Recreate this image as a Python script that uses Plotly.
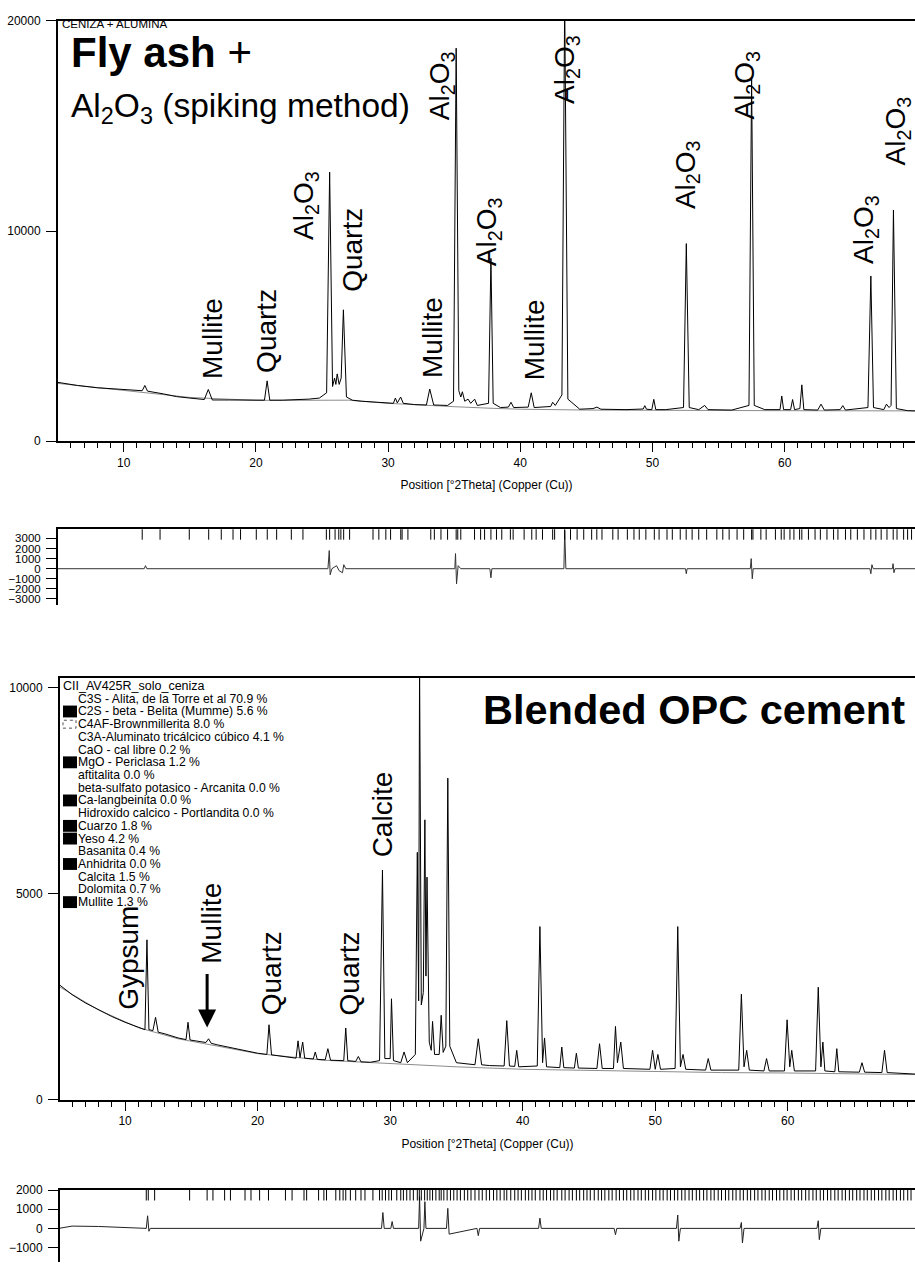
import plotly.graph_objects as go

W, H = 915, 1269

# ---------------- Fly ash + Al2O3 (spiking) : observed profile ----------------
fa_tth = [5.0, 6.5, 8.0, 10.0, 11.4, 11.6, 11.8, 13.0, 14.0, 15.0, 16.1, 16.4, 16.7, 18.0, 19.5,
          20.65, 20.85, 21.05, 22.0, 23.0, 24.0, 24.8, 25.35, 25.58, 25.8, 25.95, 26.05, 26.15, 26.3,
          26.45, 26.62, 26.85, 27.3, 28.0, 29.0, 30.4, 30.55, 30.7, 30.95, 31.15, 32.0, 32.9, 33.15,
          33.45, 34.5, 34.95, 35.15, 35.35, 35.5, 35.62, 35.8, 36.05, 36.25, 36.55, 36.75, 37.6,
          37.78, 37.95, 38.5, 39.1, 39.3, 39.5, 40.6, 40.83, 41.05, 41.7, 42.3, 42.45, 42.65, 43.15,
          43.36, 43.6, 44.5, 45.5, 45.8, 46.1, 47.0, 48.0, 49.3, 49.42, 49.55, 49.95, 50.1, 50.25,
          51.0, 52.35, 52.56, 52.78, 53.5, 53.95, 54.2, 56.0, 57.3, 57.5, 57.7, 58.5, 59.65, 59.78,
          59.92, 60.45, 60.6, 60.75, 61.15, 61.3, 61.45, 62.5, 62.75, 63.0, 64.2, 64.4, 64.6, 66.3,
          66.52, 66.72, 67.5, 67.7, 67.9, 68.05, 68.23, 68.45, 69.3, 69.86]
fa_obs = [2800, 2650, 2540, 2450, 2400, 2650, 2380, 2250, 2120, 2050, 1980, 2460, 1960, 1960, 1950,
          1950, 2870, 1950, 1950, 1960, 2000, 2050, 2300, 12800, 2600, 3000, 2700, 3200, 2700,
          3000, 6250, 2100, 1950, 1900, 1850, 1800, 2050, 1820, 2100, 1800, 1740, 1720, 2480,
          1720, 1700, 1900, 18700, 2400, 2100, 2350, 1900, 2000, 1800, 2000, 1700, 1800,
          8700, 1800, 1600, 1620, 1850, 1600, 1620, 2300, 1600, 1620, 1650, 1850, 1700, 2200,
          21000, 2000, 1520, 1550, 1620, 1520, 1500, 1500, 1530, 1690, 1520, 1500, 1990, 1500,
          1500, 1600, 9400, 1600, 1500, 1700, 1500, 1480, 1700, 17300, 1700, 1500, 1500, 2150,
          1500, 1500, 1980, 1500, 1550, 2680, 1500, 1480, 1760, 1480, 1500, 1690, 1480, 1600,
          7860, 1600, 1500, 1760, 1600, 1700, 11000, 1550, 1450, 1440]

# calculated background
fa_bg_tth = [5.0, 10.0, 15.0, 20.0, 25.0, 27.0, 30.0, 33.0, 35.0, 38.0, 40.0, 45.0, 50.0, 60.0, 69.86]
fa_bg = [2750, 2400, 2080, 1940, 1950, 1950, 1800, 1690, 1640, 1560, 1520, 1480, 1460, 1450, 1440]

# observed - calculated
fa_diff_tth = [5.0, 11.55, 11.65, 11.75, 25.45, 25.55, 25.62, 25.75, 26.1, 26.3, 26.55, 26.65, 26.8,
               35.05, 35.1, 35.18, 35.3, 35.5, 37.7, 37.78, 37.85, 43.3, 43.36, 43.45, 52.5, 52.56,
               52.62, 57.4, 57.47, 57.55, 57.62, 66.45, 66.52, 66.6, 66.7, 68.15, 68.2, 68.27, 68.35,
               69.86]
fa_diff = [0, 0, 300, 0, 0, 1800, -600, 0, 300, -200, -400, 400, 0,
           0, 1500, -1500, 300, 0, 0, -900, 0, 0, 3800, 0, 0, -500,
           0, 0, 1000, -1000, 0, 0, -500, 400, 0, 0, 500, -400, 0,
           0]

# reflection markers (corundum, mullite, quartz)
fa_refl = [11.4, 12.75, 14.96, 16.43, 17.38, 18.27, 18.84, 20.03, 20.86, 21.57, 22.68, 23.56,
           25.33, 25.58, 25.99, 26.27, 26.43, 26.64, 27.09, 28.86, 29.3, 29.83, 30.19, 30.96,
           31.06, 31.5, 33.23, 33.5, 34.0, 34.5, 35.15, 35.27, 35.5, 36.54, 37.0, 37.3, 37.78,
           38.2, 38.6, 39.25, 39.46, 40.29, 40.87, 41.2, 41.68, 42.45, 42.6, 43.36, 43.8, 44.3,
           44.8, 45.4, 45.79, 46.18, 47.0, 47.4, 48.1, 48.6, 49.0, 49.5, 50.14, 50.5, 51.1,
           51.5, 52.1, 52.55, 53.0, 53.5, 54.1, 54.87, 55.32, 55.8, 56.4, 56.9, 57.5, 57.6,
           58.2, 58.6, 59.3, 59.74, 59.96, 60.4, 60.7, 61.13, 61.3, 61.8, 62.3, 62.7, 63.2,
           63.7, 64.03, 64.6, 65.0, 65.5, 66.0, 66.52, 66.9, 67.3, 67.74, 68.21, 68.5, 69.0,
           69.3, 69.6]

fa_labels = [  # (2theta of label centre, text, lower end of the rotated label in px)
    (16.73, "Mullite", 378),
    (20.84, "Quartz", 372),
    (23.79, "Al<sub>2</sub>O<sub>3</sub>", 237),
    (27.35, "Quartz", 290),
    (33.37, "Mullite", 377),
    (34.0, "Al<sub>2</sub>O<sub>3</sub>", 116),
    (37.6, "Al<sub>2</sub>O<sub>3</sub>", 264),
    (41.04, "Mullite", 380),
    (43.5, "Al<sub>2</sub>O<sub>3</sub>", 100),
    (52.6, "Al<sub>2</sub>O<sub>3</sub>", 206),
    (57.1, "Al<sub>2</sub>O<sub>3</sub>", 116),
    (66.1, "Al<sub>2</sub>O<sub>3</sub>", 262),
    (68.55, "Al<sub>2</sub>O<sub>3</sub>", 162),
]

# ---------------- Blended OPC cement : observed profile ----------------
op_tth = [5.0, 6.0, 7.0, 8.0, 9.0, 10.0, 11.0, 11.5, 11.65, 11.8, 12.1, 12.3, 12.5, 13.0, 14.0, 14.6,
          14.75, 14.9, 15.5, 16.1, 16.3, 16.5, 17.0, 18.0, 19.0, 20.0, 20.7, 20.86, 21.05, 22.0,
          22.9, 23.05, 23.2, 23.4, 23.55, 24.2, 24.35, 24.5, 25.1, 25.3, 25.5, 26.5, 26.65, 26.8,
          27.4, 27.6, 27.8, 28.5, 29.2, 29.42, 29.6, 30.0, 30.1, 30.25, 30.8, 31.05, 31.3, 31.9,
          32.05, 32.15, 32.22, 32.35, 32.5, 32.62, 32.7, 32.78, 32.95, 33.1, 33.2, 33.35, 33.7,
          33.85, 34.0, 34.2, 34.35, 34.5, 35.0, 36.4, 36.65, 36.9, 37.5, 38.6, 38.8, 39.0, 39.4,
          39.55, 39.7, 41.1, 41.3, 41.5, 41.65, 41.8, 42.8, 42.95, 43.1, 43.9, 44.05, 44.2, 45.6,
          45.8, 46.0, 46.85, 47.0, 47.15, 47.4, 47.6, 49.6, 49.8, 50.0, 50.2, 50.4, 51.5, 51.7,
          51.9, 52.1, 52.3, 53.8, 54.0, 54.2, 56.3, 56.5, 56.7, 56.9, 57.1, 58.2, 58.4, 58.6,
          59.75, 59.95, 60.15, 60.3, 60.5, 62.1, 62.3, 62.5, 62.65, 62.8, 63.55, 63.7, 63.85,
          65.4, 65.6, 65.8, 67.1, 67.3, 67.5, 68.5, 69.86]
op_obs = [2800, 2550, 2350, 2180, 2020, 1880, 1760, 1700, 3880, 1700, 1680, 2000, 1640, 1600, 1500, 1460,
          1880, 1450, 1420, 1390, 1480, 1370, 1330, 1260, 1200, 1130, 1100, 1820, 1090, 1040,
          1010, 1430, 1020, 1400, 1010, 990, 1160, 980, 970, 1240, 960, 950, 1740, 950,
          930, 1050, 920, 910, 950, 5570, 1000, 1000, 2450, 950, 900, 1160, 900, 1100,
          6000, 2400, 10600, 2300, 2600, 6790, 3000, 5400, 1400, 1200, 1900, 1100, 1100,
          2050, 1150, 1300, 7800, 1300, 900, 850, 1480, 850, 830, 820, 1920, 820, 810,
          1200, 800, 820, 4200, 900, 1500, 800, 780, 1280, 780, 770, 1130, 770, 760,
          1360, 760, 760, 1780, 900, 1400, 760, 740, 1200, 740, 1100, 740, 760, 4200,
          800, 1100, 740, 720, 1000, 720, 720, 2560, 800, 1200, 720, 700, 1000, 700,
          700, 1940, 800, 1200, 700, 700, 2730, 800, 1400, 700, 680, 1240, 680,
          670, 900, 670, 660, 1200, 660, 640, 620]

op_bg_tth = [5.0, 8.0, 11.0, 14.0, 17.0, 20.0, 25.0, 30.0, 35.0, 40.0, 45.0, 50.0, 55.0, 60.0, 65.0, 69.86]
op_bg = [2750, 2180, 1750, 1480, 1300, 1120, 960, 880, 800, 740, 710, 680, 660, 650, 630, 610]

op_diff_tth = [5.0, 6.0, 8.0, 10.0, 11.6, 11.7, 11.8, 11.9, 20.0, 29.35, 29.45, 29.55, 30.05, 30.15,
               30.25, 32.15, 32.22, 32.3, 32.55, 32.62, 32.7, 34.25, 34.35, 34.45, 36.55, 36.65,
               36.75, 41.2, 41.3, 41.4, 46.9, 47.0, 47.1, 51.6, 51.7, 51.78, 51.9, 56.4, 56.5,
               56.58, 56.7, 62.2, 62.3, 62.38, 62.5, 69.86]
op_diff = [0, 120, 100, 60, 0, 660, -150, 0, 0, 0, 830, 0, 0, 360,
           0, 0, 1660, -670, 0, 1400, 0, 0, 1050, -300, 0, -380,
           0, 0, 535, 0, 0, -330, 0, 0, 700, -670, 0, 0, 310,
           -760, 0, 0, 400, -590, 0, 0]

# reflection markers of the refined cement phases
op_refl = [11.6, 11.75, 12.23, 14.87, 16.19, 16.63, 17.51, 17.95, 19.05, 19.5, 20.15, 20.82,
           22.1, 22.6, 23.5, 23.7, 24.6, 25.0, 25.2, 25.9, 26.2, 26.45, 26.65, 27.0, 27.4, 27.8,
           28.1, 28.7, 29.2, 29.4, 29.65, 29.9, 30.1, 30.5, 30.8, 31.0, 31.25, 31.5, 31.75,
           32.05, 32.2, 32.35, 32.6, 32.8, 33.0, 33.2, 33.45, 33.7, 33.85, 34.05, 34.3, 34.55,
           34.8, 35.05, 35.3, 35.6, 35.85, 36.1, 36.4, 36.7, 36.95, 37.25, 37.5, 37.8, 38.05,
           38.3, 38.6, 38.8, 39.1, 39.4, 39.65, 39.9, 40.2, 40.45, 40.7, 40.95, 41.3, 41.55,
           41.8, 42.1, 42.35, 42.6, 42.95, 43.2, 43.5, 43.75, 44.05, 44.3, 44.6, 44.85, 45.1,
           45.4, 45.7, 45.95, 46.2, 46.5, 46.75, 47.05, 47.3, 47.6, 47.85, 48.15, 48.4, 48.7,
           48.95, 49.25, 49.5, 49.8, 50.05, 50.35, 50.6, 50.9, 51.15, 51.45, 51.7, 52.0, 52.25,
           52.55, 52.8, 53.1, 53.35, 53.65, 53.9, 54.2, 54.45, 54.75, 55.0, 55.3, 55.55, 55.85,
           56.1, 56.4, 56.65, 56.95, 57.2, 57.5, 57.75, 58.05, 58.3, 58.6, 58.85, 59.15, 59.4,
           59.7, 59.95, 60.25, 60.5, 60.8, 61.05, 61.35, 61.6, 61.9, 62.15, 62.45, 62.7, 63.0,
           63.25, 63.55, 63.8, 64.1, 64.35, 64.65, 64.9, 65.2, 65.45, 65.75, 66.0, 66.3, 66.55,
           66.85, 67.1, 67.4, 67.65, 67.95, 68.2, 68.5, 68.75, 69.05, 69.3]

op_labels = [
    (10.3, "Gypsum", 1016),
    (16.55, "Mullite", 969),
    (21.05, "Quartz", 1022),
    (26.95, "Quartz", 1022),
    (29.45, "Calcite", 862),
]

phases = [  # (name, quantity text, marker: True filled, False none, None hatched)
    ("C3S - Alita, de la Torre et al", "70.9 %", False),
    ("C2S - beta - Belita (Mumme)", "5.6 %", True),
    ("C4AF-Brownmillerita", "8.0 %", None),
    ("C3A-Aluminato tricálcico cúbico", "4.1 %", False),
    ("CaO - cal libre", "0.2 %", False),
    ("MgO - Periclasa", "1.2 %", True),
    ("aftitalita", "0.0 %", False),
    ("beta-sulfato potasico - Arcanita", "0.0 %", False),
    ("Ca-langbeinita", "0.0 %", True),
    ("Hidroxido calcico - Portlandita", "0.0 %", False),
    ("Cuarzo", "1.8 %", True),
    ("Yeso", "4.2 %", True),
    ("Basanita", "0.4 %", False),
    ("Anhidrita", "0.0 %", True),
    ("Calcita", "1.5 %", False),
    ("Dolomita", "0.7 %", False),
    ("Mullite", "1.3 %", True),
]

# ---------------- layout helpers ----------------
def py(p):
    return 1 - p / H

def pxx(p):
    return p / W

TICK_FONT = dict(family="Liberation Sans, Arial", size=12, color="black")
TXT = "Liberation Sans, Arial, Helvetica"
GRAY = "#8c8c8c"

fig = go.Figure()

# top pattern
fig.add_trace(go.Scatter(x=fa_bg_tth, y=fa_bg, mode="lines", line=dict(color=GRAY, width=1),
                         xaxis="x", yaxis="y", hoverinfo="skip"))
fig.add_trace(go.Scatter(x=fa_tth, y=fa_obs, mode="lines", line=dict(color="black", width=1),
                         xaxis="x", yaxis="y"))
# top difference
D1 = (-3630, 3920)
fig.add_trace(go.Scatter(x=fa_diff_tth, y=fa_diff, mode="lines", line=dict(color="#333", width=1),
                         xaxis="x2", yaxis="y2"))
fig.add_trace(go.Scatter(x=fa_refl, y=[D1[1] - 420] * len(fa_refl), mode="markers",
                         marker=dict(symbol="line-ns", size=9, line=dict(color="black", width=1)),
                         xaxis="x2", yaxis="y2"))
# bottom pattern
fig.add_trace(go.Scatter(x=op_bg_tth, y=op_bg, mode="lines", line=dict(color=GRAY, width=1),
                         xaxis="x3", yaxis="y3"))
fig.add_trace(go.Scatter(x=op_tth, y=op_obs, mode="lines", line=dict(color="black", width=1),
                         xaxis="x3", yaxis="y3"))
# bottom difference
D2 = (-1760, 2020)
fig.add_trace(go.Scatter(x=op_diff_tth, y=op_diff, mode="lines", line=dict(color="#222", width=1),
                         xaxis="x4", yaxis="y4"))
fig.add_trace(go.Scatter(x=op_refl, y=[D2[1] - 230] * len(op_refl), mode="markers",
                         marker=dict(symbol="line-ns", size=9, line=dict(color="black", width=1)),
                         xaxis="x4", yaxis="y4"))

TOP_X = [5.03, 69.86]
BOT_X = [5.09, 69.6]

def main_x(domain, rng, anchor):
    return dict(domain=domain, range=rng, anchor=anchor, showline=True, linecolor="black",
                linewidth=2, mirror=True, ticks="outside", ticklen=9, tickwidth=1,
                tickcolor="black", dtick=10, tick0=0, tickfont=TICK_FONT, showgrid=False,
                zeroline=False, minor=dict(dtick=1, ticks="outside", ticklen=5, tickcolor="black",
                                           tickwidth=1, showgrid=False),
                title=dict(text="Position [°2Theta] (Copper (Cu))",
                           font=dict(family="Liberation Sans, Arial", size=12, color="black"),
                           standoff=12))

def left_y(domain, rng, anchor, dtick, size=12):
    return dict(domain=domain, range=rng, anchor=anchor, showline=True, linecolor="black",
                linewidth=2, ticks="outside", ticklen=10, tickwidth=1, tickcolor="black",
                dtick=dtick, tick0=0, tickformat="d", showgrid=False, zeroline=False,
                tickfont=dict(family="Liberation Sans, Arial", size=size, color="black"),
                ticklabelstandoff=3)

def diff_x(domain, rng, anchor):
    return dict(domain=domain, range=rng, anchor=anchor, side="top", showline=True,
                linecolor="black", linewidth=2, showticklabels=False, ticks="",
                showgrid=False, zeroline=False)

fig.update_layout(
    width=W, height=H, margin=dict(l=0, r=0, t=0, b=0),
    paper_bgcolor="white", plot_bgcolor="white", showlegend=False,
    xaxis=main_x([pxx(58), 1.0], TOP_X, "y"),
    yaxis=left_y([py(439), py(14)], [0, 20000], "x", 10000),
    xaxis2=diff_x([pxx(58), 1.0], TOP_X, "y2"),
    yaxis2=left_y([py(605), py(528)], list(D1), "x2", 1000, size=11.5),
    xaxis3=main_x([pxx(60), 1.0], BOT_X, "y3"),
    yaxis3=left_y([py(1105), py(678)], [0, 10240], "x3", 5000),
    xaxis4=diff_x([pxx(60), 1.0], BOT_X, "y4"),
    yaxis4=left_y([0.0, py(1196)], list(D2), "x4", 1000),
)

ann = []
shapes = []

def label(xref, tth, bottom_px, text, size=28):
    ann.append(dict(xref=xref, yref="paper", x=tth, y=py(bottom_px), text=text, textangle=-90,
                    xanchor="center", yanchor="bottom", showarrow=False,
                    font=dict(family=TXT, size=size, color="black")))

for tth, txt, b in fa_labels:
    label("x", tth, b, txt)
for tth, txt, b in op_labels:
    label("x3", tth, b, txt)

# arrow below the bottom Mullite label
ann.append(dict(xref="x3", yref="paper", x=16.19, y=py(1032), ax=0, ay=-55, axref="pixel",
                ayref="pixel", text="", showarrow=True, arrowhead=2, arrowsize=1.2,
                arrowwidth=3, arrowcolor="black"))

# panel titles (anchored on the middle of the text line)
ann.append(dict(xref="paper", yref="paper", x=pxx(70), y=py(46), xanchor="left", yanchor="middle",
                text="<b>Fly ash</b> +", showarrow=False, borderpad=0,
                font=dict(family=TXT, size=42, color="black")))
ann.append(dict(xref="paper", yref="paper", x=pxx(69), y=py(102), xanchor="left", yanchor="middle",
                text="Al<sub>2</sub>O<sub>3</sub> (spiking method)", showarrow=False,
                font=dict(family=TXT, size=33.5, color="black")))
ann.append(dict(xref="paper", yref="paper", x=pxx(907), y=py(710), xanchor="right", yanchor="middle",
                text="<b>Blended OPC cement</b>", showarrow=False,
                font=dict(family=TXT, size=41.5, color="black")))
ann.append(dict(xref="paper", yref="paper", x=pxx(61), y=py(17), xanchor="left", yanchor="middle",
                text="CENIZA + ALUMINA", showarrow=False, borderpad=0,
                font=dict(family=TXT, size=11.5, color="black")))

# phase list
ann.append(dict(xref="paper", yref="paper", x=pxx(61), y=py(687), xanchor="left", yanchor="middle",
                text="CII_AV425R_solo_ceniza", showarrow=False,
                font=dict(family=TXT, size=12.5, color="black")))
for i, (name, q, filled) in enumerate(phases):
    yc = 699.5 + 12.85 * i
    ann.append(dict(xref="paper", yref="paper", x=pxx(76), y=py(yc), xanchor="left",
                    yanchor="middle", text=f"{name} {q}", showarrow=False,
                    font=dict(family=TXT, size=12.2, color="black")))
    if filled:
        shapes.append(dict(type="rect", xref="paper", yref="paper", x0=pxx(63), x1=pxx(77),
                           y0=py(yc + 6), y1=py(yc - 6), fillcolor="black", line=dict(width=0)))
    elif filled is None:
        shapes.append(dict(type="rect", xref="paper", yref="paper", x0=pxx(63), x1=pxx(76),
                           y0=py(yc + 4), y1=py(yc - 4), fillcolor="white",
                           line=dict(color="#555", width=1, dash="dot")))

fig.update_layout(annotations=ann, shapes=shapes)
fig.write_html("out.html")
